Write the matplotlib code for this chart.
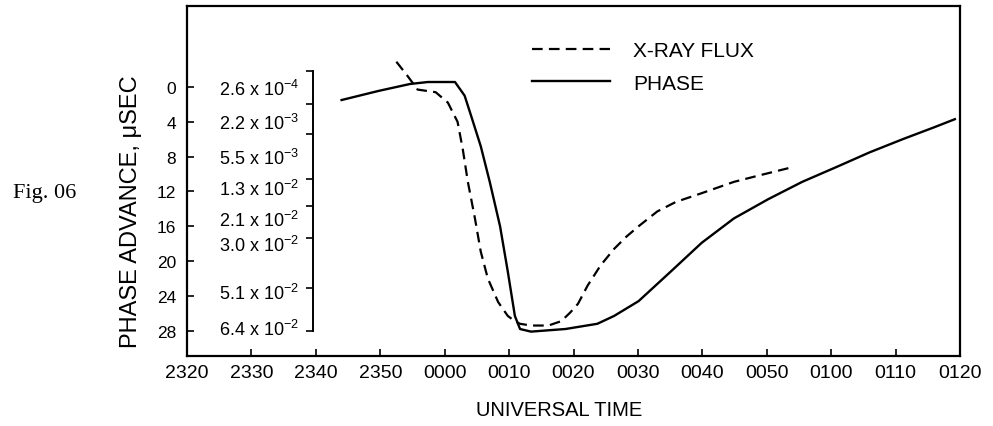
import numpy as np
import matplotlib
matplotlib.use('Agg')
import matplotlib.pyplot as plt

plt.rcParams['font.family'] = ['Liberation Sans', 'DejaVu Sans']
plt.rcParams['mathtext.fontset'] = 'custom'
plt.rcParams['mathtext.rm'] = 'Liberation Sans'
plt.rcParams['mathtext.it'] = 'Liberation Sans:italic'
plt.rcParams['mathtext.bf'] = 'Liberation Sans:bold'

# time in minutes relative to 0000 UT
time_ticks = [-40, -30, -20, -10, 0, 10, 20, 30, 40, 50, 60, 70, 80]
time_labels = ['2320', '2330', '2340', '2350', '0000', '0010', '0020',
               '0030', '0040', '0050', '0100', '0110', '0120']

phase_ticks = [0, 4, 8, 12, 16, 20, 24, 28]

# x-ray flux scale drawn against the phase axis
flux_labels = [r'2.6 x 10$^{-4}$', r'2.2 x 10$^{-3}$', r'5.5 x 10$^{-3}$',
               r'1.3 x 10$^{-2}$', r'2.1 x 10$^{-2}$', r'3.0 x 10$^{-2}$',
               r'5.1 x 10$^{-2}$', r'6.4 x 10$^{-2}$']
flux_label_pos = [0.0, 3.9, 7.9, 11.5, 15.0, 17.9, 23.4, 27.6]
flux_bracket_pos = [-1.8, 1.95, 5.4, 10.6, 13.7, 17.4, 23.1, 28.0]

# PHASE curve (solid)
phase_time = [-16.0, -10.3, -5.4, -2.6, 1.6, 3.1, 4.1, 5.6, 7.0, 8.6, 9.8,
              10.9, 11.7, 13.4, 18.75, 23.7, 26.3, 30.1, 35.1, 39.9, 44.9,
              50.2, 55.5, 60.8, 66.0, 71.1, 76.1, 79.2]
phase_val = [1.5, 0.46, -0.34, -0.57, -0.57, 1.0, 3.3, 6.8, 10.9, 16.0, 21.2,
             26.3, 27.8, 28.1, 27.8, 27.2, 26.3, 24.6, 21.2, 17.9, 15.1,
             12.9, 10.9, 9.2, 7.5, 6.0, 4.6, 3.7]

# X-RAY FLUX curve (dashed), read on the left scale
xray_time = [-7.5, -5.8, -4.2, -1.4, 0.5, 2.0, 2.8, 3.6, 4.7, 5.6, 6.7, 8.3,
             9.8, 10.9, 11.7, 13.4, 16.1, 18.1, 19.5, 20.7, 22.2, 24.2, 26.3,
             28.2, 30.1, 33.0, 35.9, 39.9, 44.9, 48.6, 53.5]
xray_val = [-2.9, -1.3, 0.3, 0.6, 1.8, 4.0, 7.1, 10.9, 15.1, 18.9, 22.0, 24.7,
            26.3, 26.9, 27.2, 27.4, 27.4, 26.9, 25.9, 24.9, 22.8, 20.5, 18.6,
            17.2, 16.0, 14.3, 13.2, 12.2, 10.9, 10.2, 9.3]

fig = plt.figure(figsize=(9.93, 4.27), dpi=100)
ax = fig.add_axes([187 / 993, 70 / 427, 773 / 993, 350 / 427])

ax.plot(xray_time, xray_val, color='black', lw=1.6, ls=(0, (4.8, 2.8)),
        label='X-RAY FLUX')
ax.plot(phase_time, phase_val, color='black', lw=1.7, label='PHASE')

ax.set_xlim(-40, 80)
ax.set_ylim(30.9, -9.3)
ax.set_xticks(time_ticks, time_labels)
ax.set_yticks(phase_ticks)
ax.tick_params(direction='in', length=5, width=1.2)
ax.tick_params(axis='x', labelsize=14, pad=6)
ax.tick_params(axis='y', labelsize=12.5, pad=8)
for s in ax.spines.values():
    s.set_linewidth(1.6)

ax.set_xlabel('UNIVERSAL TIME', fontsize=14.5)
ax.set_ylabel('PHASE ADVANCE, \u03bcSEC', fontsize=17)
ax.xaxis.set_label_coords(0.482, -0.125)
ax.yaxis.set_label_coords(-0.058, 0.414)

# bracket axis for the flux values
fx = ax.twinx()
fx.set_ylim(ax.get_ylim())
for s in ['top', 'bottom', 'right']:
    fx.spines[s].set_visible(False)
fx.spines['left'].set_visible(True)
fx.spines['left'].set_position(('axes', 0.163))
fx.spines['left'].set_bounds(flux_bracket_pos[0], flux_bracket_pos[-1])
fx.spines['left'].set_linewidth(1.4)
fx.yaxis.tick_left()
fx.set_yticks(flux_label_pos, flux_labels)
fx.set_yticks(flux_bracket_pos, minor=True)
fx.tick_params(axis='y', which='major', length=0, pad=10, labelsize=13)
fx.tick_params(axis='y', which='minor', direction='out', length=5, width=1.2)

ax.legend(loc='upper left', bbox_to_anchor=(0.446, 0.90), frameon=False,
          fontsize=15, handlelength=3.75, handletextpad=1.1,
          labelspacing=0.65, borderaxespad=0, borderpad=0)

fig.text(0.013, 0.548, 'Fig. 06', family=['Liberation Serif'], fontsize=16,
         va='center')

fig.savefig('out.png', dpi=100)
